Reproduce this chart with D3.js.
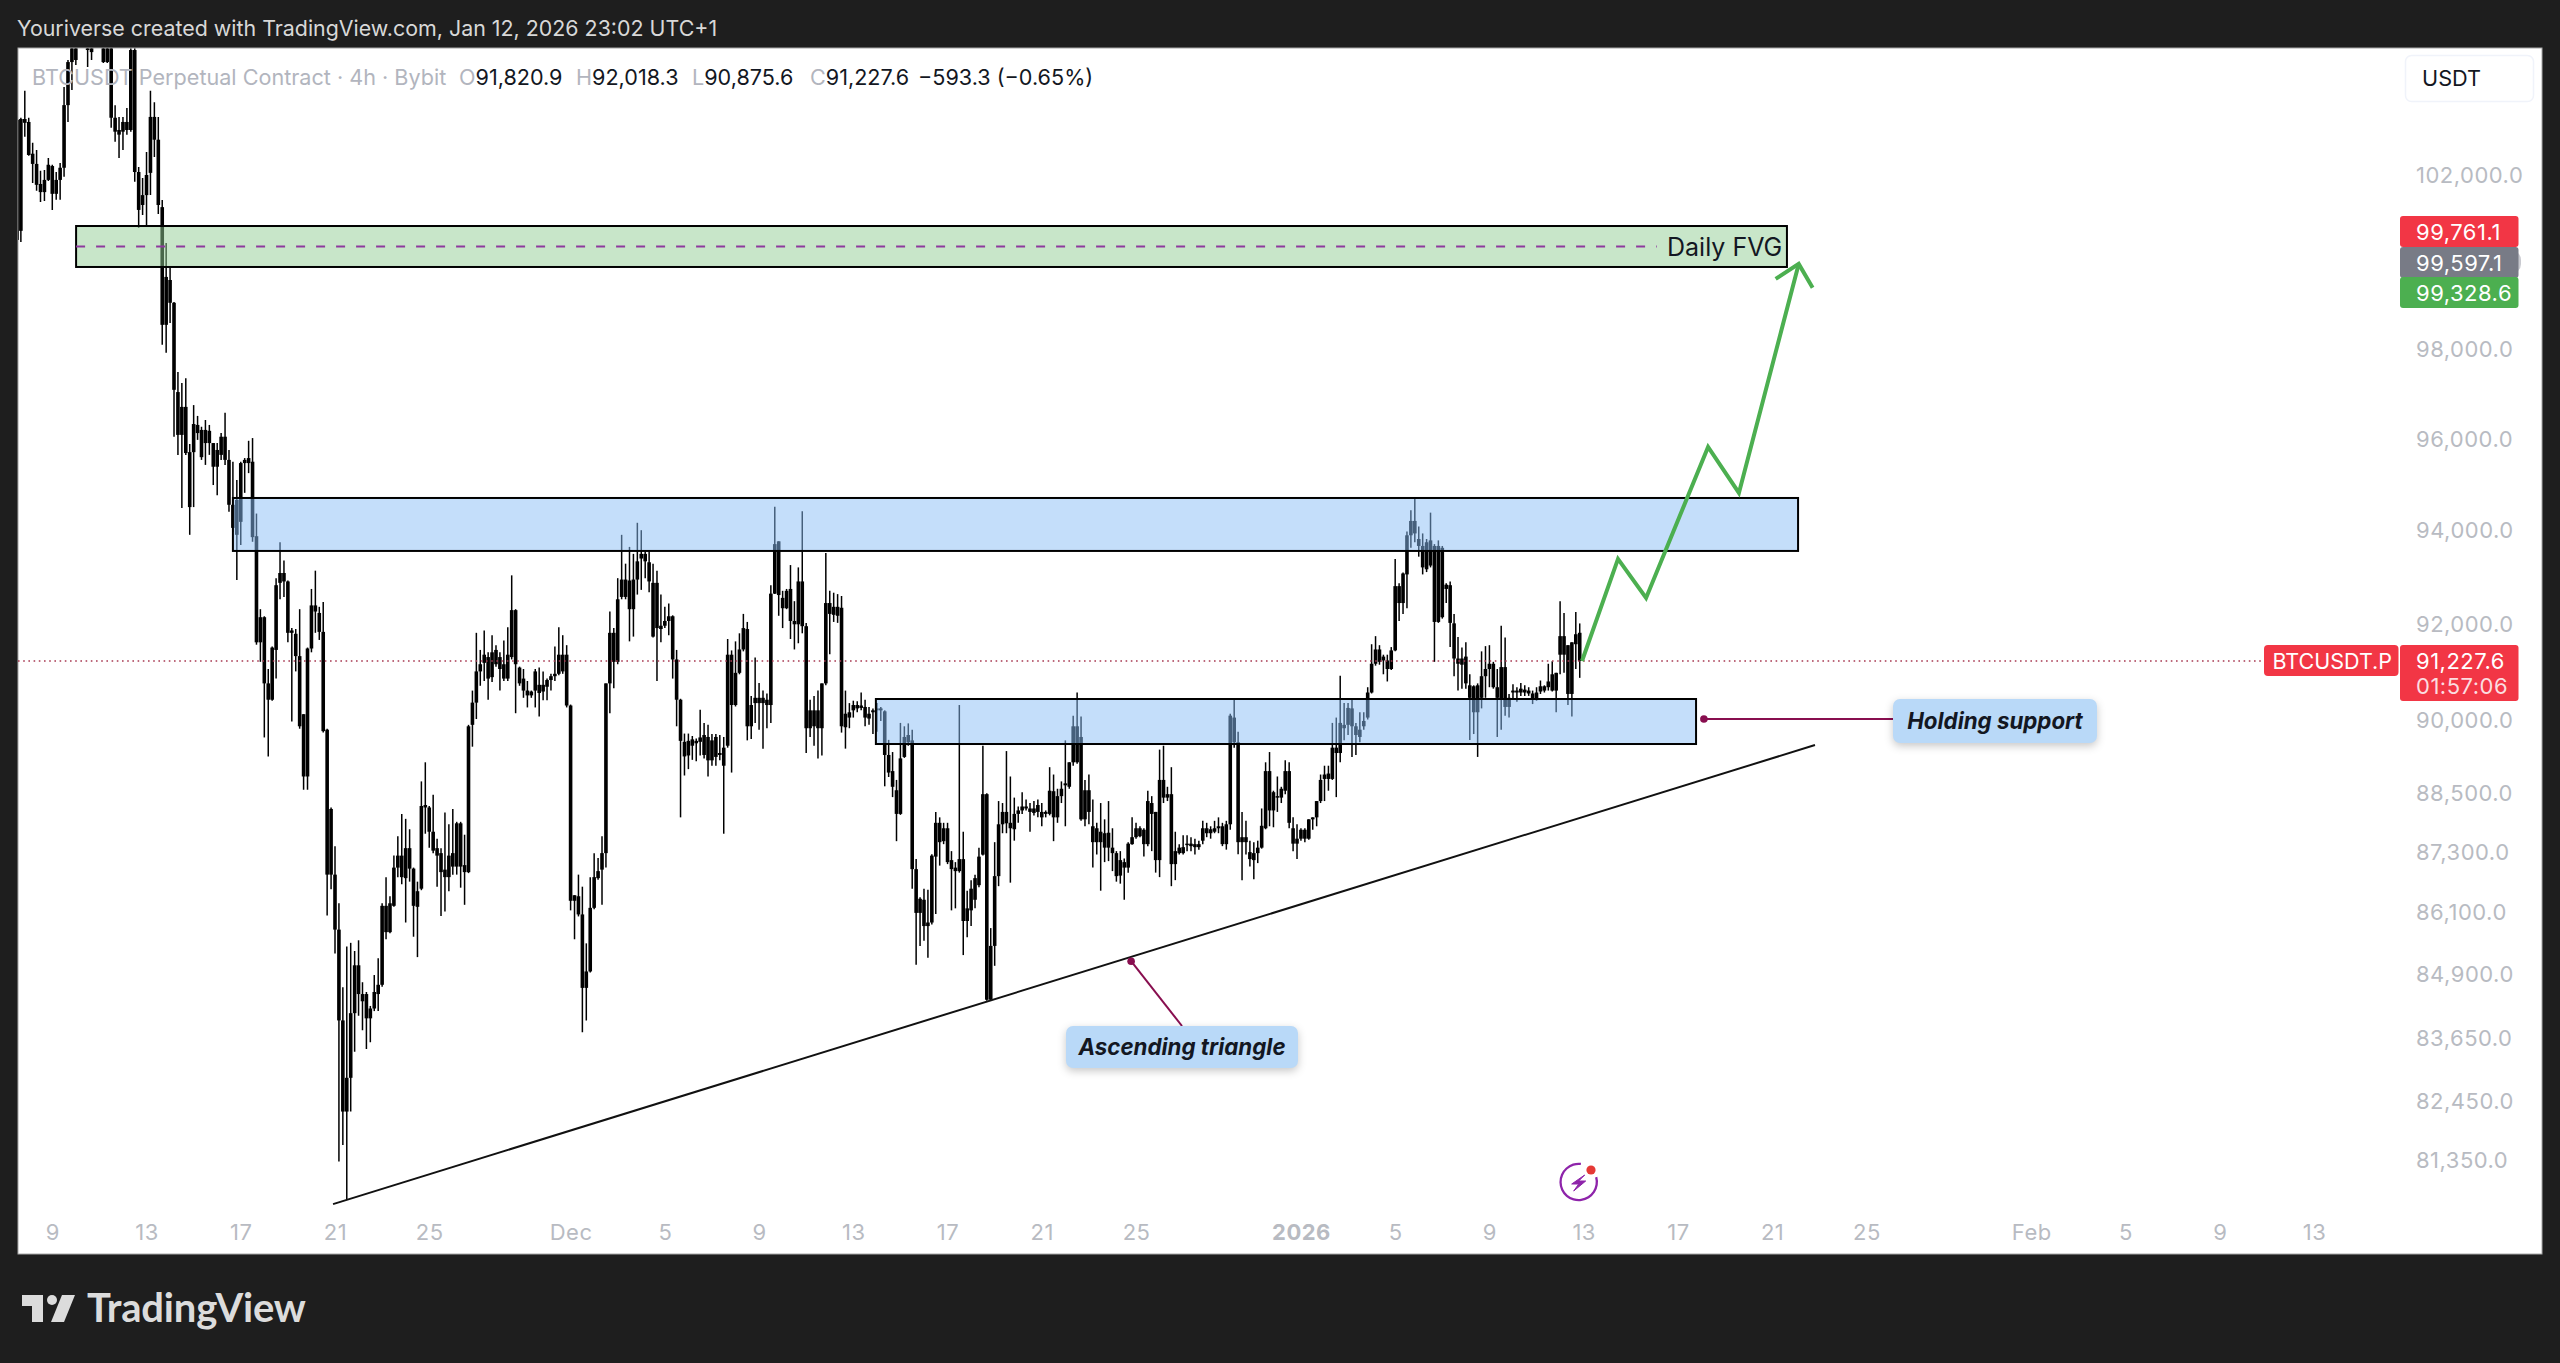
<!DOCTYPE html>
<html>
<head>
<meta charset="utf-8">
<script src="https://cdn.jsdelivr.net/npm/d3@7/dist/d3.min.js"></script>
<style>
  html, body { margin: 0; padding: 0; background: #1e1e1e; }
  svg { display: block; font-family: Inter, "Noto Sans", sans-serif; }
</style>
</head>
<body>
<svg id="chart" width="2560" height="1363"></svg>
<script>
// BTCUSDT perpetual, 4h candles (the first bar opens Nov 7 2025 12:00 UTC).
const firstBarTime = "2025-11-07T12:00:00Z";
const barHours = 4;

const candleHigh = [
  103350,103350,103990,103350,102760,102590,102100,102120,102400,102240,
  102070,102280,104080,104730,105450,105330,105700,105570,105450,105300,
  105450,105450,105450,105450,105450,103650,103370,103370,103580,105450,
  105020,102190,101930,102540,103990,103720,103370,101417,100420,99850,
  99070,97490,97240,97350,95890,96750,96510,96270,96420,96310,
  95910,95910,96130,96580,95758,95500,95100,95500,95580,95960,
  96020,94370,92320,92170,91060,91530,92980,93750,93360,92930,
  91920,91900,92320,90120,91510,92750,93140,92370,92470,89820,
  88210,87430,86290,84640,85440,85510,85350,85560,84740,84550,
  84280,84880,85210,86290,86810,86430,87240,87630,88080,87980,
  87770,87000,86720,88740,89130,88240,88470,87580,87390,88110,
  87870,88180,87920,87920,87660,89900,90610,91820,91460,91870,
  91410,91770,91560,91410,91660,91940,93040,92320,91110,91060,
  90810,90610,91060,91090,91010,90860,90960,91530,91940,91770,
  91560,90320,86450,86860,86620,85500,86810,87290,87190,87630,
  90760,92270,91920,92980,93910,93290,93650,93500,94170,94010,
  93550,93550,93290,93140,92630,92370,92440,92190,91460,90440,
  89720,89720,89670,89620,90210,89940,89900,89710,89710,89690,
  89650,91690,91450,91640,91810,92220,92050,90500,91300,90770,
  90610,90550,92830,94520,93770,92710,92750,93260,92490,93210,
  94420,92030,90420,90500,90610,90760,93520,92710,92670,92640,
  92600,90610,90350,90400,90390,90570,90420,90270,90240,90350,
  90270,90200,89590,89340,88770,89940,89870,89930,89800,87170,
  86410,86580,86560,87270,88120,88010,87900,87900,87330,87110,
  90310,87720,86540,86750,86860,87400,89470,88500,85800,87510,
  88340,88300,89360,88840,88410,88230,88520,88370,88300,88340,
  88370,88300,88150,89030,88880,88590,88740,89580,89130,90090,
  90570,90070,88770,88880,88370,87900,88300,87970,88340,87790,
  87330,87330,87180,87510,88010,87900,87830,87790,88550,88440,
  88120,89390,89470,88630,89030,87720,87470,87650,87650,87610,
  87580,87540,87940,87900,87830,87940,88010,87900,87940,90130,
  90420,89760,88120,87940,87540,87510,87540,88190,89130,89340,
  88550,88840,88630,89170,89130,88010,87870,87790,87790,87970,
  88010,88340,88880,89060,89060,89940,90050,90920,90350,90350,
  90420,89940,90160,90160,90680,91580,91750,91560,91360,91360,
  91520,93390,92870,93100,93980,94440,94700,94090,93940,93820,
  94390,93710,93790,93670,92870,92910,92220,91730,91510,91620,
  90950,90720,90760,91430,91540,91560,91210,91060,91970,91720,
  90540,90740,90680,90770,90720,90680,90610,90680,90820,90720,
  91170,91220,90980,92490,92240,91560,91620,92260,92018.3
];

const candleBodyTop = [
  103300,103320,103320,103250,102500,102260,101790,101885,102240,102210,
  101885,102170,103650,104680,105210,105260,105570,105450,105300,105210,
  105330,105380,105350,105350,105260,103350,103060,103250,103250,104970,
  104970,102070,101530,102000,103370,103370,102830,101250,99640,99570,
  99050,97040,96710,96710,95710,96330,96310,96200,96200,96180,
  95910,95758,96050,96050,95540,94560,94665,95470,95540,95580,
  95500,93880,92150,92150,90760,91510,92830,93090,93090,92910,
  91870,91800,91330,90120,91490,92400,92400,92240,91840,89800,
  88180,86860,85770,84000,82900,84140,85070,85070,84510,84510,
  84230,84550,84690,86240,86240,86290,87000,87240,87240,87390,
  87390,86980,86530,88240,88260,88210,87720,87390,87290,86960,
  87240,87290,87890,87890,87050,89870,90360,91010,91160,91360,
  91310,91410,91460,91310,91160,91360,92300,92300,91090,90860,
  90610,90590,91010,90730,90730,90830,90910,90960,91360,91360,
  91360,90300,86450,86430,86070,84950,86200,86810,86930,87290,
  90760,91820,91820,92530,92950,92950,92930,92950,93340,93500,
  93500,93320,92880,92880,91970,92070,92170,92170,91260,90420,
  89550,89570,89600,89570,89640,89690,89650,89580,89650,89320,
  89430,91360,91360,90980,91470,91920,91900,90310,90460,90460,
  90460,90420,92650,93710,93770,92560,92710,92750,92070,92910,
  92910,91960,90200,90200,90200,90760,92450,92450,92370,92370,
  92350,90130,90160,90310,90310,90300,90270,90130,90200,90240,
  90240,90180,89280,88950,88560,89210,89650,89690,89580,86970,
  86380,86360,85910,87240,87900,87900,87790,87790,87150,87000,
  87170,87170,86190,86580,86790,87220,88480,88480,85450,86830,
  87870,88120,88120,87900,88080,88150,88230,88230,88190,88190,
  88260,88120,88120,88550,88540,88440,88590,88700,89130,89870,
  89870,89650,88560,88560,87830,87790,87720,87690,87700,87400,
  87290,87150,87110,87480,87610,87790,87790,87760,88340,88300,
  88120,88770,88770,88480,88480,87330,87400,87410,87480,87480,
  87470,87470,87790,87790,87770,87790,87830,87830,87870,90090,
  90050,89540,87610,87610,87310,87290,87400,87840,88950,88950,
  88520,88440,88590,88950,88950,87790,87580,87760,87760,87970,
  88010,88340,88770,88880,88900,89430,89430,89940,89900,90250,
  90240,89870,89800,89980,90570,91170,91470,91470,91320,91240,
  91450,92810,92810,93080,93900,94210,94210,93820,93670,93750,
  93790,93670,93670,93630,92840,92830,92020,91280,91280,91320,
  90720,90700,90720,90910,91060,91170,91170,90680,91100,91100,
  90460,90610,90610,90650,90630,90610,90550,90570,90700,90700,
  90800,90950,90980,91750,91750,91560,91620,91790,91820.9
];

const candleBodyBottom = [
  100490,100700,103230,102470,102260,101770,101600,101600,101885,101560,
  101560,101885,102170,103650,104680,104730,105330,105210,104970,104920,
  105160,105210,104680,104680,103350,103020,102950,103020,103060,103060,
  102070,101185,101300,101530,102050,102830,101300,98550,98550,99050,
  97090,96090,96090,95690,94510,95710,96130,95600,95910,95910,
  95390,95390,95650,95540,94560,94060,93910,94190,95470,95470,
  93860,91620,91620,90760,90420,90420,91460,92880,92910,91820,
  91820,91330,89870,88840,88840,91490,92270,91840,89770,86860,
  86860,85770,84000,82260,82260,82900,84140,84510,84370,84040,
  84040,84230,84510,84690,85720,85720,86240,87000,86810,86790,
  86980,86240,86220,86580,88210,87720,87340,87240,86910,86810,
  86810,87020,87020,87020,86910,86910,89900,90360,91010,91190,
  90860,90890,91160,91060,90860,90860,91310,91160,90760,90610,
  90510,90510,90610,90560,90590,90690,90830,90910,90960,91010,
  90300,86340,86340,86070,84630,84630,84950,86200,86790,86960,
  87290,90760,91210,91210,92580,92580,92320,92320,92950,93400,
  93340,92910,91740,91920,91900,91970,92070,91260,90420,89570,
  89250,89270,89470,89520,89550,89280,89170,89170,89240,89280,
  89060,89470,90310,90310,90980,91470,89870,89870,90350,90350,
  90350,90310,90310,92650,92620,92340,92340,92070,92000,92000,
  91960,89830,89830,89870,89830,89830,90760,92220,92200,92180,
  89870,89850,90050,90200,90240,90250,90050,90030,90160,90200,
  90200,89280,88920,88630,88080,88080,89240,89540,86970,86100,
  86100,85840,85840,85910,87220,87510,87530,87110,86970,86930,
  86930,85940,85940,86150,86360,86650,87260,84400,84400,85450,
  86830,87870,87890,87790,87770,88080,88150,88190,88120,88100,
  88120,88010,88080,88080,88010,88010,88440,88660,88630,89130,
  89130,87970,87970,88120,87510,87510,87510,87400,87400,87290,
  86830,86840,87000,87000,87470,87610,87630,87470,87470,88080,
  87150,87150,88410,88410,87070,87070,87290,87290,87460,87430,
  87410,87410,87540,87690,87690,87720,87790,87470,87470,87870,
  89540,87510,87510,87510,87170,87150,87290,87400,87790,88150,
  88150,88410,88410,88550,87900,87480,87480,87580,87580,87580,
  87970,88010,88340,88790,88790,88790,89320,89320,89830,89900,
  89870,89690,89650,89870,90050,90570,91170,91210,91240,91060,
  91060,91450,92450,92450,93060,93900,93940,93670,93210,93170,
  93250,92050,92050,92150,92750,92030,91280,91170,91150,90760,
  90460,90160,90160,90460,90910,91060,90680,90460,90420,90270,
  90270,90570,90570,90570,90570,90550,90420,90450,90590,90610,
  90680,90610,90610,91360,91360,90540,90540,91580,91227.6
];

const candleLow = [
  100280,100440,102900,102450,101810,101630,101370,101390,101860,101185,
  101420,101420,101960,103250,104010,104610,105210,105110,104560,104730,
  105090,105070,104660,104660,103110,102780,102400,102590,102950,103020,
  101840,100770,101070,100810,101530,102420,101090,98100,97920,98590,
  96050,95650,94490,95650,93910,94510,95980,95540,95430,95650,
  94990,94770,95540,95430,94410,93970,92940,93690,94820,95250,
  93760,91570,91210,89640,89250,90400,90860,92530,92580,91620,
  89970,91010,89820,88570,88570,91410,91820,91670,89740,86050,
  86570,85300,81320,81630,80610,82260,83400,84090,83810,83450,
  83580,84180,84180,84650,85580,85700,86220,86810,86670,85910,
  86720,85630,85230,86550,87680,87400,87290,86620,86040,86130,
  86530,86860,86860,86600,86260,86890,89450,90020,90710,90810,
  90420,90790,91110,90610,90810,90810,91260,90140,90710,90460,
  90260,90460,90260,90070,90410,90410,90610,90810,90930,90960,
  90260,86150,85580,86030,83770,84000,84930,86170,86760,86260,
  87000,90140,90660,91160,92530,92530,91640,91740,92630,92730,
  92980,92680,91720,90810,91620,91920,91770,90860,89870,88010,
  88860,88990,89180,89150,89270,89210,88840,89060,89060,89170,
  87680,89430,88920,90280,90950,91430,89580,89610,89940,89800,
  89410,89830,89940,92640,92180,91920,92320,91690,91470,91600,
  91810,89320,89650,89470,89210,89270,90720,91370,92050,92030,
  89740,89410,89830,90050,90160,90200,89870,89900,89710,89760,
  89980,88640,88830,88420,87530,88060,89220,89470,86580,85080,
  85450,85550,85220,85870,86080,87040,87470,87070,86150,86190,
  86900,85270,85620,85840,86190,86610,87240,84380,84380,85060,
  86630,87690,87690,86700,87540,87900,88080,88150,87720,88050,
  88010,87830,88010,88050,87530,87900,88300,87830,88590,89060,
  89100,87940,87830,87870,87000,87260,86540,87110,87130,86930,
  86720,86680,86360,86900,87460,87580,87610,87220,87430,87330,
  86900,86810,88300,88340,86630,86750,87260,87260,87330,87330,
  87260,87360,87470,87610,87580,87690,87690,87430,87360,87760,
  89430,87270,86750,87260,87020,86770,87090,87380,87770,87830,
  87810,88120,88300,88480,87790,87330,87170,87540,87510,87560,
  87760,87830,88300,88340,88550,88770,88420,89130,89580,89690,
  89240,89280,89540,89800,90010,90550,91130,91150,90950,90800,
  91040,91430,92070,92220,92340,93630,93750,93440,93060,93110,
  93210,91210,92030,92120,92450,91520,90910,90610,90650,90650,
  89590,89710,89240,90240,90460,90680,90650,89650,89800,90090,
  90050,90450,90380,90500,90500,90500,90330,90400,90540,90570,
  90610,90590,90160,90950,90980,90310,90070,91060,90875.6
];

// Price and time axis labels
const priceTicks = [102000, 98000, 96000, 94000, 92000, 90000, 88500, 87300, 86100, 84900, 83650, 82450, 81350];
const timeTickDates = ["2025-11-09","2025-11-13","2025-11-17","2025-11-21","2025-11-25","2025-12-01","2025-12-05","2025-12-09","2025-12-13","2025-12-17","2025-12-21","2025-12-25","2026-01-01","2026-01-05","2026-01-09","2026-01-13","2026-01-17","2026-01-21","2026-01-25","2026-02-01","2026-02-05","2026-02-09","2026-02-13"];
const timeTickLabels = ["9","13","17","21","25","Dec","5","9","13","17","21","25","2026","5","9","13","17","21","25","Feb","5","9","13"];

// Drawn zones: supply band, support band, daily fair value gap
const zoneNames   = ["supply", "support", "fvg"];
const zoneFrom    = ["2025-11-16T16:00Z", "2025-12-13T23:00Z", "2025-11-10T00:15Z"];
const zoneTo      = ["2026-01-22T02:25Z", "2026-01-17T18:30Z", "2026-01-21T15:05Z"];
const zoneTop     = [94708, 90435, 100812];
const zoneBottom  = [93563, 89505, 99868];
const fvgMidPrice = 100340;
const fvgMidEnd   = "2026-01-16T02:30Z";

// Rising trendline under the lows
const trendTimes  = ["2025-11-20T22:00Z", "2026-01-22T19:40Z"];
const trendPrices = [80530, 89484];

// Projected path and its arrow head
const pathTimes   = ["2026-01-12T22:20Z","2026-01-14T11:00Z","2026-01-15T15:35Z","2026-01-18T06:45Z","2026-01-19T14:10Z","2026-01-22T03:05Z"];
const pathPrices  = [91227.6, 93391, 92557, 95824, 94818, 99938];
const headTimes   = ["2026-01-21T03:35Z","2026-01-22T03:05Z","2026-01-22T17:15Z"];
const headPrices  = [99595, 99938, 99390];

// Callouts: anchor of the leader line on the chart
const calloutTexts  = ["Holding support", "Ascending triangle"];
const calloutTimes  = ["2026-01-18T02:30Z", "2025-12-24T19:00Z"];
const calloutPrices = [90020, 85150];

const lastPrice = 91227.6;

const svg = d3.select("#chart");
const pane = { left: 18, right: 2542, top: 48, bottom: 1254 };

// The price axis is logarithmic, the time axis linear in time
const y = d3.scaleLog().domain([90000, 102000]).range([720, 175]);
const x = d3.scaleUtc().domain([new Date("2025-11-21T00:00Z"), new Date("2026-02-13T00:00Z")]).range([335, 2314]);
const X = s => x(new Date(s));

const barMs = barHours * 3600 * 1000;
const firstMs = new Date(firstBarTime).getTime();
const bars = candleHigh.map((h, i) => ({
  t: new Date(firstMs + i * barMs), h, top: candleBodyTop[i], bottom: candleBodyBottom[i], l: candleLow[i]
}));

svg.append("rect").attr("width", 2560).attr("height", 1363).attr("fill", "#1e1e1e");
svg.append("rect").attr("x", pane.left).attr("y", pane.top)
   .attr("width", pane.right - pane.left).attr("height", pane.bottom - pane.top)
   .attr("fill", "#fff").attr("stroke", "#a8a8a8").attr("stroke-width", 1);

svg.append("clipPath").attr("id", "pane-clip").append("rect")
   .attr("x", pane.left).attr("y", pane.top + 0.5)
   .attr("width", pane.right - pane.left).attr("height", pane.bottom - pane.top - 1);

const plot = svg.append("g").attr("clip-path", "url(#pane-clip)");

// Candles: wick plus body, both black
const candles = plot.append("g").attr("class", "candles");
candles.selectAll("line").data(bars).join("line")
  .attr("x1", d => x(d.t)).attr("x2", d => x(d.t))
  .attr("y1", d => y(d.h)).attr("y2", d => y(d.l))
  .attr("stroke", "#000").attr("stroke-width", 1.5);
candles.selectAll("rect").data(bars).join("rect")
  .attr("x", d => x(d.t) - 1.8).attr("width", 3.6)
  .attr("y", d => y(d.top)).attr("height", d => Math.max(1.5, y(d.bottom) - y(d.top)))
  .attr("fill", "#000");

// Last price line
plot.append("line")
  .attr("x1", pane.left).attr("x2", 2264).attr("y1", y(lastPrice)).attr("y2", y(lastPrice))
  .attr("stroke", "#a83a52").attr("stroke-width", 1.6).attr("stroke-dasharray", "1.6 3.6");

// Zones sit above the candles, which show through them
const zoneFill = { supply: "rgba(138,190,245,0.5)", support: "rgba(138,190,245,0.5)", fvg: "rgba(145,205,147,0.5)" };
plot.selectAll("rect.zone").data(zoneNames).join("rect")
  .attr("class", "zone")
  .attr("x", (d, i) => X(zoneFrom[i]))
  .attr("width", (d, i) => X(zoneTo[i]) - X(zoneFrom[i]))
  .attr("y", (d, i) => y(zoneTop[i]))
  .attr("height", (d, i) => y(zoneBottom[i]) - y(zoneTop[i]))
  .attr("fill", d => zoneFill[d])
  .attr("stroke", "#000").attr("stroke-width", 2);

plot.append("line")
  .attr("x1", X(zoneFrom[2])).attr("x2", X(fvgMidEnd))
  .attr("y1", y(fvgMidPrice)).attr("y2", y(fvgMidPrice))
  .attr("stroke", "#8e3a9e").attr("stroke-width", 2).attr("stroke-dasharray", "9 11");

plot.append("text").attr("x", 1667).attr("y", y(fvgMidPrice) + 9.5)
  .attr("font-size", 25).attr("fill", "#131722").text("Daily FVG");

// Trendline
const lineGen = d3.line().x(d => X(d[0])).y(d => y(d[1]));
plot.append("path").attr("d", lineGen(d3.zip(trendTimes, trendPrices)))
  .attr("fill", "none").attr("stroke", "#111").attr("stroke-width", 2);

// Projected path with arrow head
[[pathTimes, pathPrices], [headTimes, headPrices]].forEach(([ts, ps]) => {
  plot.append("path").attr("d", lineGen(d3.zip(ts, ps)))
    .attr("fill", "none").attr("stroke", "#4caf50").attr("stroke-width", 4)
    .attr("stroke-linejoin", "miter").attr("stroke-linecap", "butt");
});

// Callouts: leader line, anchor dot, label box
const calloutBoxes = [
  { x: 1893, y: 699, w: 204, h: 44 },
  { x: 1066, y: 1026, w: 232, h: 42 }
];
const calloutEnds = [[1893, 719], [1182, 1026]];
calloutTexts.forEach((label, i) => {
  const ax = X(calloutTimes[i]), ay = y(calloutPrices[i]);
  plot.append("line").attr("x1", ax).attr("y1", ay)
    .attr("x2", calloutEnds[i][0]).attr("y2", calloutEnds[i][1])
    .attr("stroke", "#880e4f").attr("stroke-width", 2);
  plot.append("circle").attr("cx", ax).attr("cy", ay).attr("r", 3.8).attr("fill", "#880e4f");
  const b = calloutBoxes[i];
  plot.append("rect").attr("x", b.x).attr("y", b.y).attr("width", b.w).attr("height", b.h)
    .attr("rx", 7).attr("fill", "#b9d9f8")
    .style("filter", "drop-shadow(0 3px 4px rgba(0,0,0,0.22))");
  plot.append("text").attr("x", b.x + b.w / 2).attr("y", b.y + b.h / 2 + 8)
    .attr("text-anchor", "middle").attr("font-size", 22.3).attr("font-weight", 700)
    .attr("font-style", "italic").attr("fill", "#131722").text(label);
});

// Price axis
const priceAxis = d3.axisRight(y).tickValues(priceTicks).tickFormat(d3.format(",.1f")).tickSize(0).tickPadding(0);
const py = svg.append("g").attr("transform", "translate(2416,0)").call(priceAxis);
py.select(".domain").remove();
py.selectAll("text").attr("font-size", 22).attr("font-family", "Inter").attr("fill", "#b8bbc2")
  .attr("letter-spacing", 0.5);

// Time axis
const timeAxis = d3.axisBottom(x)
  .tickValues(timeTickDates.map(d => new Date(d + "T00:00Z")))
  .tickFormat((d, i) => timeTickLabels[i]).tickSize(0).tickPadding(0);
const tx = svg.append("g").attr("transform", "translate(0,1232)").call(timeAxis);
tx.select(".domain").remove();
tx.selectAll("text").attr("dy", "0.36em").attr("y", 0)
  .attr("font-size", 22).attr("font-family", "Inter").attr("fill", "#b8bbc2").attr("letter-spacing", 0.5)
  .attr("font-weight", (d, i) => timeTickLabels[i] === "2026" ? 700 : 400);

// Price tags on the right edge
const tagValues = [99761.1, 99597.1, 99328.6];
const tagColors = ["#f23645", "#787b86", "#4caf50"];
const tagTops   = [216, 247, 277];
svg.append("rect").attr("x", 2500).attr("y", 250).attr("width", 21).attr("height", 24).attr("rx", 10).attr("fill", "#c9cad0");
tagValues.forEach((v, i) => {
  svg.append("rect").attr("x", 2400).attr("y", tagTops[i]).attr("width", 118.5).attr("height", 31)
    .attr("rx", 3).attr("fill", tagColors[i]);
});
tagValues.forEach((v, i) => {
  svg.append("text").attr("x", 2416).attr("y", tagTops[i] + 23.5).attr("font-size", 22).attr("letter-spacing", 0.5)
    .attr("fill", "#fff").text(d3.format(",.1f")(v));
});

const lastY = y(lastPrice);
svg.append("rect").attr("x", 2264).attr("y", lastY - 16).attr("width", 134.5).attr("height", 31)
  .attr("rx", 4).attr("fill", "#f23645");
svg.append("text").attr("x", 2272.5).attr("y", lastY + 7.5).attr("font-size", 21.5)
  .attr("fill", "#fff").text("BTCUSDT.P");
svg.append("rect").attr("x", 2400).attr("y", lastY - 16).attr("width", 118.5).attr("height", 56)
  .attr("rx", 3).attr("fill", "#f23645");
svg.append("text").attr("x", 2416).attr("y", lastY + 7.5).attr("font-size", 22).attr("letter-spacing", 0.5)
  .attr("fill", "#fff").text(d3.format(",.1f")(lastPrice));
svg.append("text").attr("x", 2416).attr("y", lastY + 32.5).attr("font-size", 22).attr("letter-spacing", 0.5)
  .attr("fill", "#fbdde0").text("01:57:06");

// Currency button
svg.append("rect").attr("x", 2405.5).attr("y", 55.5).attr("width", 128).attr("height", 46).attr("rx", 6)
  .attr("fill", "#fff").attr("stroke", "#f0f3fa").attr("stroke-width", 1.5);
svg.append("text").attr("x", 2422).attr("y", 86).attr("font-size", 21.7).attr("fill", "#131722").text("USDT");

// Legend
svg.append("text").attr("x", 32).attr("y", 85).attr("font-size", 21.6).attr("fill", "#b2b5be")
  .text("BTCUSDT Perpetual Contract · 4h · Bybit");
const legendParts = [
  { x: 459, label: "O", value: "91,820.9" },
  { x: 576, label: "H", value: "92,018.3" },
  { x: 692, label: "L", value: "90,875.6" },
  { x: 810, label: "C", value: "91,227.6" }
];
legendParts.forEach(p => {
  const t = svg.append("text").attr("x", p.x).attr("y", 85).attr("font-size", 21.6);
  t.append("tspan").attr("fill", "#b2b5be").text(p.label);
  t.append("tspan").attr("fill", "#131722").text(p.value);
});
svg.append("text").attr("x", 918).attr("y", 85).attr("font-size", 21.6).attr("fill", "#131722")
  .text("−593.3 (−0.65%)");

// Header strip
svg.append("text").attr("x", 17).attr("y", 36).attr("font-size", 21.4).attr("fill", "#d8d8d8")
  .text("Youriverse created with TradingView.com, Jan 12, 2026 23:02 UTC+1");

// Lightning badge near the last bar
const badge = svg.append("g").attr("transform", "translate(1578.7,1182)");
badge.append("path")
  .attr("d", d3.arc()({ innerRadius: 17, outerRadius: 19.3, startAngle: 1.3, endAngle: Math.PI * 2 + 0.12 }))
  .attr("fill", "#8e24aa");
badge.append("path").attr("d", "M6 -7 L-7 2 L0 2 L-5 9 L7 -1 L0 -1 Z")
  .attr("fill", "#8e24aa").attr("stroke", "#8e24aa").attr("stroke-width", 1).attr("stroke-linejoin", "round");
badge.append("circle").attr("cx", 12.3).attr("cy", -12).attr("r", 4.6).attr("fill", "#e53935");

// Logo and wordmark
const logo = svg.append("g").attr("fill", "#dcdcdc");
logo.append("path").attr("d", "M22 1295 H43 V1322 H32 V1306 H22 Z");
logo.append("path").attr("d", "M62 1295 H75 L64 1322 H51 Z");
logo.append("circle").attr("cx", 52).attr("cy", 1300).attr("r", 5);
svg.append("text").attr("x", 87).attr("y", 1322).attr("font-size", 40).attr("font-weight", 700)
  .attr("font-family", "Lato, Inter, sans-serif").attr("fill", "#dcdcdc").attr("letter-spacing", -0.2).text("TradingView");
</script>
</body>
</html>
